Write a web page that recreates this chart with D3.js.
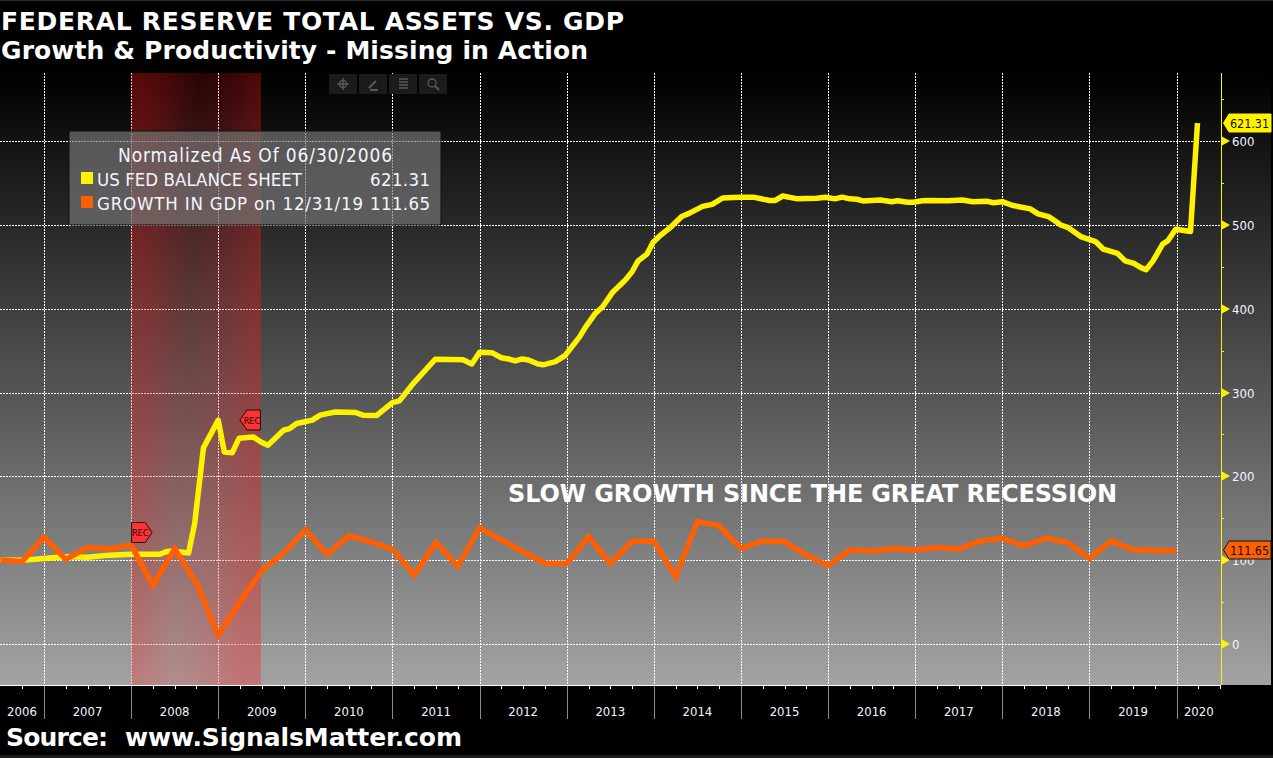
<!DOCTYPE html>
<html>
<head>
<meta charset="utf-8">
<script src="https://cdn.jsdelivr.net/npm/d3@7/dist/d3.min.js"></script>
<style>
html,body{margin:0;padding:0;background:#000;overflow:hidden}
svg{display:block}
text{white-space:pre}
.cond{font-stretch:condensed}
</style>
</head>
<body>
<div id="chart"></div>
<script>
const titleLines = ["FEDERAL RESERVE TOTAL ASSETS VS. GDP", "Growth & Productivity - Missing in Action"];
const annotation = "SLOW GROWTH SINCE THE GREAT RECESSION";
const sourceParts = ["Source:", "www.SignalsMatter.com"];
const legendTitle = "Normalized As Of 06/30/2006";
const seriesNames = ["US FED BALANCE SHEET", "GROWTH IN GDP on 12/31/19"];
const seriesLast = ["621.31", "111.65"];
const yearLabels = [2006,2007,2008,2009,2010,2011,2012,2013,2014,2015,2016,2017,2018,2019,2020];
const yTicks = [0,100,200,300,400,500,600];
const yMinorTicks = [50,150,250,350,450,550,650];
const recession = [2008.0, 2009.49];

const fedTimes = [2006.5,2006.75,2007,2007.25,2007.5,2007.75,2008,2008.33,2008.4,2008.47,2008.66,2008.73,2008.83,2009,2009.07,2009.16,2009.24,2009.4,2009.49,2009.57,2009.75,2009.82,2009.9,2010.08,2010.17,2010.34,2010.58,2010.66,2010.82,2011,2011.08,2011.24,2011.49,2011.81,2011.91,2012,2012.14,2012.25,2012.33,2012.41,2012.49,2012.56,2012.67,2012.73,2012.87,2012.98,2013.15,2013.21,2013.33,2013.41,2013.53,2013.67,2013.75,2013.82,2013.92,2013.99,2014.07,2014.18,2014.32,2014.41,2014.56,2014.67,2014.79,2014.91,2015.01,2015.14,2015.33,2015.39,2015.48,2015.65,2015.87,2015.97,2016.08,2016.16,2016.25,2016.33,2016.4,2016.6,2016.73,2016.8,2016.91,2016.98,2017.08,2017.17,2017.38,2017.54,2017.66,2017.83,2017.9,2018,2018.11,2018.32,2018.41,2018.53,2018.59,2018.67,2018.75,2018.9,2019.07,2019.16,2019.32,2019.41,2019.51,2019.59,2019.65,2019.73,2019.84,2019.9,2019.99,2020.16,2020.24];
const fedValues = [100,100,102,104,103.5,106,107,107,110,111,108.5,144,234,267,229,228,245.5,247,241,237,255,257,263,267,273,276.7,276,273,272.7,288,290,311,339.6,339,334,348,347.5,341.5,340,337.6,340,338.8,334,333,336.8,344,366.6,377,394.6,402,420,434,444,457,465,479,487,496,510,514,522,524.4,532,532.6,533,533,529,529,534.4,531,531.6,533,531,533,531,530.5,528.5,529.6,527.6,528.8,526.9,527,528.8,529,528.8,529.6,527.6,528,526.4,527.6,523.3,519,513,509.7,505.8,499.8,497,486,480,471,466,457,454,449,446.5,457,477,481,494.7,492,621.31];

const gdpTimes = d3.range(2006.5, 2020.01, 0.25);
const gdpValues = [100,98.5,127.5,101,115,113.5,118,70,113.5,72.5,10.5,50.5,87.5,108.5,136,107,129,122,113,82,121,92.5,138.8,124,110,96,96,128,96,122.5,122.5,80.3,146,141,114,122.9,122,106,93.5,112,111,113.7,112,115,113.3,123,126,117,126.4,120.9,102,123,112.5,111.65,111.65];

const W = 1273, H = 758;
const plot = {left:0, right:1221, top:73, bottom:685};
const x = d3.scaleLinear().domain([2006.495, 2020.51]).range([plot.left, plot.right]);
const y = d3.scaleLinear().domain([0, 600]).range([644, 141]);
const FONT = "'DejaVu Sans', sans-serif";
const YELLOW = "#fff200", ORANGE = "#ff5f00", INK = "#f2f6ff";

const svg = d3.select("#chart").append("svg").attr("width", W).attr("height", H);
const defs = svg.append("defs");

const bg = defs.append("linearGradient").attr("id","bg").attr("x1",0).attr("y1",0).attr("x2",0).attr("y2",1);
bg.append("stop").attr("offset",0).attr("stop-color","#000");
bg.append("stop").attr("offset",1).attr("stop-color","#a3a3a3");

const band = defs.append("linearGradient").attr("id","band").attr("gradientUnits","userSpaceOnUse")
  .attr("x1",x(recession[0])-6).attr("y1",376).attr("x2",x(recession[1])-6).attr("y2",382);
[[0,.34],[.2,.28],[.47,.15],[.72,.22],[1,.34]].forEach(([o,a]) =>
  band.append("stop").attr("offset",o).attr("stop-color","#ff1a1a").attr("stop-opacity",a));

svg.append("rect").attr("width",W).attr("height",H).attr("fill","#000");
svg.append("rect").attr("width",W).attr("height",1).attr("fill","#2a2a2a");
svg.append("rect").attr("y",755).attr("width",W).attr("height",3).attr("fill","#1c1c1c");
svg.append("rect").attr("x",0).attr("y",plot.top).attr("width",1271).attr("height",plot.bottom-plot.top).attr("fill","url(#bg)");

// grid
const grid = svg.append("g").attr("stroke","#fff").attr("stroke-width",1).attr("stroke-dasharray","2,1").attr("shape-rendering","crispEdges");
grid.selectAll("line.h").data(yTicks).join("line").attr("class","h")
  .attr("x1",plot.left).attr("x2",plot.right).attr("y1",d=>Math.round(y(d))+.5).attr("y2",d=>Math.round(y(d))+.5);
grid.selectAll("line.v").data(yearLabels.slice(1)).join("line").attr("class","v")
  .attr("y1",plot.top).attr("y2",plot.bottom).attr("x1",d=>Math.round(x(d))+.5).attr("x2",d=>Math.round(x(d))+.5);

// recession band
svg.append("rect").attr("x",x(recession[0])).attr("width",x(recession[1])-x(recession[0]))
  .attr("y",plot.top).attr("height",plot.bottom-plot.top).attr("fill","url(#band)");

// x axis
const quarters = d3.range(2006.75, 2020.51, 0.25);
const gxm = svg.append("g").attr("transform",`translate(0,${plot.bottom})`)
  .call(d3.axisBottom(x).tickValues(quarters).tickSize(4).tickFormat(""));
gxm.select(".domain").remove();
gxm.selectAll("line").attr("stroke","#fff").attr("shape-rendering","crispEdges");
svg.append("line").attr("x1",plot.left).attr("x2",plot.right).attr("y1",plot.bottom+.5).attr("y2",plot.bottom+.5)
  .attr("stroke","#fff").attr("shape-rendering","crispEdges");
const gxM = svg.append("g").attr("transform",`translate(0,${plot.bottom+1})`)
  .call(d3.axisBottom(x).tickValues(yearLabels.slice(1)).tickSize(33).tickFormat(""));
gxM.select(".domain").remove();
gxM.selectAll("line").attr("stroke","#8a8a8a").attr("shape-rendering","crispEdges");
const labelX = yr => x((Math.max(yr, x.domain()[0]) + Math.min(yr + 1, x.domain()[1])) / 2);
svg.append("g").selectAll("text").data(yearLabels).join("text").attr("class","cond")
  .attr("x",labelX).attr("y",716).attr("text-anchor","middle")
  .attr("font-family",FONT).attr("font-size",13).attr("fill",INK).text(d=>d);

// y axis
const gy = svg.append("g").attr("transform",`translate(${plot.right},0)`)
  .call(d3.axisRight(y).tickValues(yMinorTicks).tickSize(3).tickFormat(""));
gy.select(".domain").remove();
gy.selectAll("line").attr("stroke",YELLOW).attr("shape-rendering","crispEdges");
svg.append("line").attr("x1",plot.right+.5).attr("x2",plot.right+.5).attr("y1",plot.top).attr("y2",plot.bottom)
  .attr("stroke",YELLOW).attr("shape-rendering","crispEdges");
const major = svg.append("g").selectAll("g").data(yTicks).join("g")
  .attr("transform",d=>`translate(${plot.right},${Math.round(y(d))})`);
major.append("path").attr("d","M1,-4.5L9,0L1,4.5Z").attr("fill",YELLOW);
major.append("text").attr("class","cond").attr("x",11).attr("y",5).attr("font-family",FONT).attr("font-size",13)
  .attr("fill",INK).text(d=>d);

// series
const line = d3.line().x(d=>x(d[0])).y(d=>y(d[1]));
svg.append("path").datum(d3.zip(fedTimes,fedValues)).attr("d",line).attr("fill","none")
  .attr("stroke",YELLOW).attr("stroke-width",5.5).attr("stroke-linejoin","round");
svg.append("path").datum(d3.zip(gdpTimes,gdpValues)).attr("d",line).attr("fill","none")
  .attr("stroke",ORANGE).attr("stroke-width",5.5).attr("stroke-linejoin","miter");

// recession markers
function recMarker(anchorX, top, dir){
  const g = svg.append("g").attr("transform",`translate(${anchorX},${top})`);
  const d = dir > 0 ? "M0.5,0.5H14L21,10.5L14,20.5H0.5Z" : "M-0.5,0.5H-14L-21,10.5L-14,20.5H-0.5Z";
  g.append("path").attr("d",d).attr("fill","#ff3333").attr("stroke","#220808").attr("stroke-width",1);
  g.append("text").attr("class","cond").attr("x",dir>0?9:-9).attr("y",14).attr("text-anchor","middle")
    .attr("font-family",FONT).attr("font-size",9).attr("fill","#200").text("REC");
}
recMarker(x(recession[0]), 522, 1);
recMarker(x(recession[1]), 409.5, -1);

// last value tags
function lastTag(val, fill, label, border){
  const cy = Math.round(y(val));
  const g = svg.append("g").attr("transform",`translate(1223,${cy})`);
  g.append("path").attr("d","M0.5,0L6,-9H48V9H6Z").attr("fill",fill).attr("stroke",border).attr("stroke-width",1);
  g.append("text").attr("class","cond").attr("x",7).attr("y",5).attr("font-family",FONT).attr("font-size",12.4).attr("fill","#101000").text(label);
}
lastTag(+seriesLast[0], YELLOW, seriesLast[0], YELLOW);
lastTag(+seriesLast[1], ORANGE, seriesLast[1], "#111");

// legend
const lg = svg.append("g");
lg.append("rect").attr("x",69).attr("y",131).attr("width",372).attr("height",94).attr("rx",2)
  .attr("fill","rgba(120,120,120,.68)").attr("stroke","#111").attr("stroke-width",1);
lg.append("text").attr("class","cond").attr("x",118).attr("y",162).attr("font-family",FONT).attr("font-size",19)
  .attr("fill",INK).attr("textLength",274).text(legendTitle);
[YELLOW, ORANGE].forEach((c,i)=>{
  const cy = 178 + i*24;
  lg.append("rect").attr("x",81).attr("y",cy-6).attr("width",12).attr("height",12).attr("fill",c);
  lg.append("text").attr("class","cond").attr("x",97).attr("y",cy+8).attr("font-family",FONT).attr("font-size",18.5)
    .attr("fill",INK).attr("textLength",i?266:205).text(seriesNames[i]);
  lg.append("text").attr("class","cond").attr("x",370).attr("y",cy+8).attr("font-family",FONT)
    .attr("font-size",18.5).attr("fill",INK).attr("textLength",60).text(seriesLast[i]);
});

// toolbar
const tb = svg.append("g");
[329,359,389,419].forEach(px => tb.append("rect").attr("x",px).attr("y",74).attr("width",28).attr("height",20).attr("fill","#1b1b1b"));
const ic = tb.append("g").attr("stroke","#5a5a5a").attr("fill","none").attr("stroke-width",1.3);
ic.append("circle").attr("cx",343).attr("cy",84).attr("r",3.5);
ic.append("path").attr("d","M343,78V90M337,84H349");
ic.append("path").attr("d","M369,88L376,81M370,90H378").attr("stroke-width",2);
ic.append("path").attr("d","M399,79H408M399,82H408M399,85H408M399,88H408").attr("stroke-width",1.5);
ic.append("circle").attr("cx",432).attr("cy",83).attr("r",4);
ic.append("path").attr("d","M435,86L439,90").attr("stroke-width",2);

// titles
function bold(xp, yp, size, t, width){
  return svg.append("text").attr("x",xp).attr("y",yp).attr("font-family",FONT).attr("font-weight","bold")
    .attr("font-size",size).attr("fill","#fff").attr("textLength",width).text(t);
}
titleLines.forEach((t,i)=> bold(1, 30+i*29, 25, t, i?587:623));
bold(508, 502, 24, annotation, 609);
bold(6, 746, 25, sourceParts[0], 102);
bold(125, 746, 25, sourceParts[1], 337);
</script>
</body>
</html>
